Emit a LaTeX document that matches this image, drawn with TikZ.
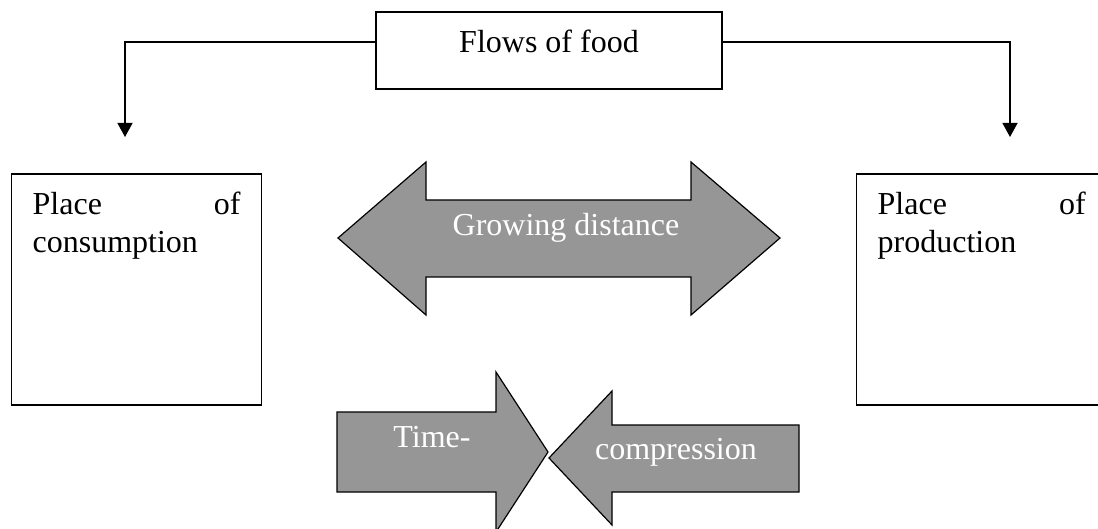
\documentclass[tikz,border=0pt]{standalone}
\usepackage{fontspec}
\setmainfont{Liberation Serif}
\usetikzlibrary{arrows.meta, positioning}
\definecolor{shadegray}{RGB}{150,150,150}

\begin{document}
\begin{tikzpicture}[
    x=0.5pt, y=-0.5pt,
    every node/.style={font=\fontsize{16}{18.8}\selectfont},
    flowbox/.style={rectangle, draw, line width=0.65pt, inner sep=0pt, minimum width=173pt, text height=20.5pt, text depth=18pt},
    placebox/.style={rectangle, draw, line width=0.65pt, inner xsep=10.5pt, inner ysep=0pt, text width=104pt, align=left, text height=20.5pt, text depth=95pt},
    feed/.style={-{Triangle[length=7pt, width=7.5pt]}, line width=0.6pt},
    bigarrow/.style={draw, line width=0.6pt, fill=shadegray, line join=miter},
    arrowtext/.style={text=white, anchor=base}
]
    \useasboundingbox (0,0) rectangle (1098,529);

    \node[flowbox, anchor=base] (flows) at (549,53) {Flows of food};
    \node[placebox, anchor=base west] (consume) at (11,215) {Place\hfill of\\consumption};
    \node[placebox, anchor=base west] (produce) at (856,215) {Place\hfill of\\production};

    \coordinate (consumetip) at (125,137);
    \coordinate (producetip) at (1010,137);
    \draw[feed] ([yshift=4.25pt]flows.west) -| (consumetip);
    \draw[feed] ([yshift=4.25pt]flows.east) -| (producetip);

    % growing distance
    \draw[bigarrow] (338,238) -- (426,162) -- (426,200) -- (691,200) -- (691,162) -- (780,238)
        -- (691,315) -- (691,277) -- (426,277) -- (426,315) -- cycle;
    \node[arrowtext] (growing) at (566,236) {Growing distance};

    % time-space compression
    \draw[bigarrow] (337,412) -- (496,412) -- (496,372) -- (548,452) -- (496,532) -- (496,492) -- (337,492) -- cycle;
    \draw[bigarrow] (799,425) -- (612,425) -- (612,391) -- (549,458) -- (612,525) -- (612,492) -- (799,492) -- cycle;
    \node[arrowtext] (time) at (432,447) {Time-};
    \node[arrowtext] (compress) at (676,459) {compression};
\end{tikzpicture}
\end{document}
